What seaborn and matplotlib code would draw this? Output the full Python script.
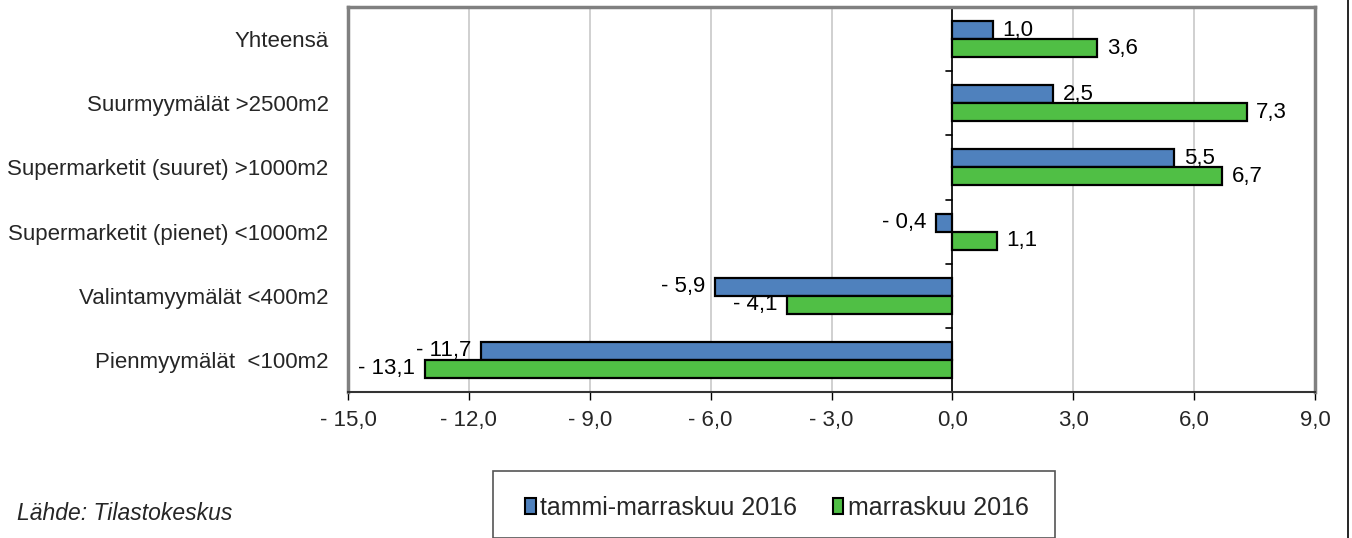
import matplotlib
matplotlib.use("Agg")
import matplotlib.pyplot as plt
import seaborn as sns
import pandas as pd
from matplotlib.patches import Rectangle
from matplotlib.lines import Line2D

categories = ["Yhteensä", "Suurmyymälät >2500m2", "Supermarketit (suuret) >1000m2",
              "Supermarketit (pienet) <1000m2", "Valintamyymälät <400m2", "Pienmyymälät  <100m2"]
series_names = ["tammi-marraskuu 2016", "marraskuu 2016"]
tammi_marras = [1.0, 2.5, 5.5, -0.4, -5.9, -11.7]
marras = [3.6, 7.3, 6.7, 1.1, -4.1, -13.1]
x_ticks = [-15, -12, -9, -6, -3, 0, 3, 6, 9]
source = "Lähde: Tilastokeskus"

colors = ["#4F81BD", "#50BF45"]

df = pd.DataFrame({
    "cat": categories * 2,
    "series": [series_names[0]] * len(categories) + [series_names[1]] * len(categories),
    "value": tammi_marras + marras,
})

sns.set_theme(style="white")
plt.rcParams["font.family"] = ["Liberation Sans", "DejaVu Sans"]

FS = 16
W, H = 1352, 538
fig = plt.figure(figsize=(W / 100, H / 100), dpi=100)
ax = fig.add_axes([348 / W, 1 - 392 / H, (1315 - 348) / W, (392 - 7) / H])

sns.barplot(data=df, y="cat", x="value", hue="series", orient="h",
            palette=colors, width=0.56, edgecolor="black", linewidth=1.6,
            saturation=1, ax=ax, legend=False, errorbar=None)

ax.set_xlim(-15, 9)
ax.set_ylim(5.5, -0.5)
ax.set_xticks(x_ticks)
ax.set_xticklabels([("- " if t < 0 else "") + f"{abs(t):.1f}".replace(".", ",") for t in x_ticks],
                   fontsize=FS)
ax.set_yticks(range(len(categories)))
ax.set_yticklabels(categories, fontsize=FS)
ax.tick_params(axis="y", length=0, pad=14)
ax.tick_params(axis="x", length=6, width=1, color="black", direction="out", pad=7, bottom=True)
ax.set_xlabel("")
ax.set_ylabel("")

ax.xaxis.grid(True, color="#C8C8C8", linewidth=1.2)
ax.set_axisbelow(True)
for s in ["left", "top", "right"]:
    ax.spines[s].set_color("#808080")
    ax.spines[s].set_linewidth(2.5)
ax.spines["bottom"].set_color("#333333")
ax.spines["bottom"].set_linewidth(1.5)

# zero axis with category tick marks
ax.axvline(0, color="black", linewidth=1.2, zorder=1.5)
for b in [i + 0.5 for i in range(-1, len(categories))]:
    ax.plot([-0.15, 0], [b, b], color="black", linewidth=1.2, clip_on=False, zorder=1.5)

# value labels
for cont in ax.containers:
    for bar in cont:
        v = bar.get_x() + bar.get_width() if bar.get_x() >= 0 else bar.get_x()
        yc = bar.get_y() + bar.get_height() / 2
        txt = ("- " if v < 0 else "") + f"{abs(v):.1f}".replace(".", ",")
        ax.annotate(txt, (v, yc), xytext=(7 if v >= 0 else -7, 0), textcoords="offset points",
                    ha="left" if v >= 0 else "right", va="center", fontsize=FS, color="black")

# legend
handles = [Rectangle((0, 0), 1, 1, facecolor=c, edgecolor="black", linewidth=1.5) for c in colors]
fig.legend(handles, series_names, loc="center left", bbox_to_anchor=(525 / W, 1 - 508 / H),
           ncol=2, frameon=False, fontsize=18, handlelength=0.42, handleheight=0.6,
           handletextpad=0.2, columnspacing=1.4, borderpad=0, borderaxespad=0)
fig.add_artist(Rectangle((493 / W, 0), (1055 - 493) / W, (538 - 471) / H, transform=fig.transFigure,
                         facecolor="none", edgecolor="#555555", linewidth=1.2))
fig.add_artist(Line2D([1348 / W, 1348 / W], [0, 1], transform=fig.transFigure, color="black", linewidth=1.2))

fig.text(17 / W, 1 - 514 / H, source, fontsize=16.5, style="italic", va="center", ha="left")

fig.savefig("out.png", dpi=100)
